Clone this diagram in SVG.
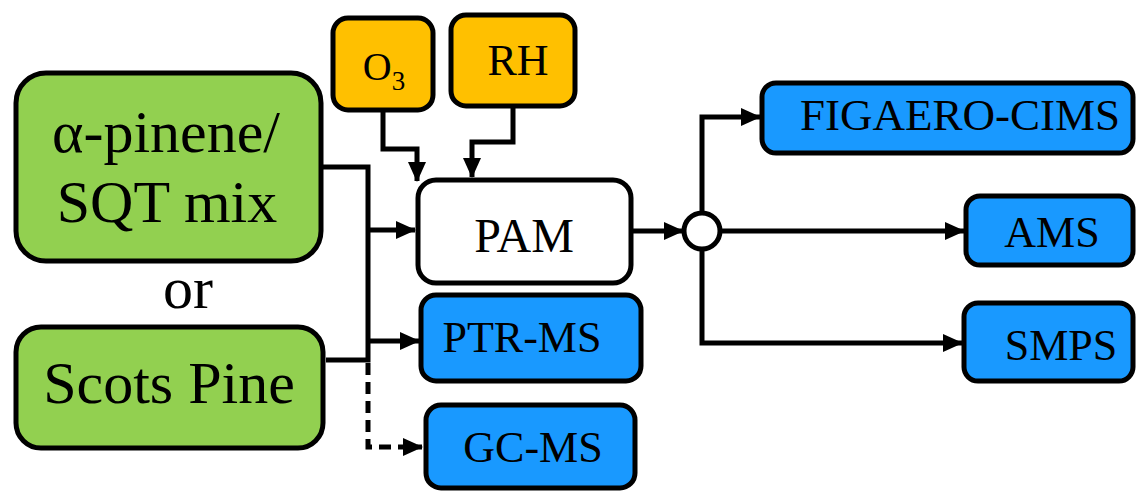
<svg xmlns="http://www.w3.org/2000/svg" width="1136" height="491" viewBox="0 0 1136 491">
<style>
.box{stroke:#000;stroke-width:5}
.green{fill:#92D050}
.orange{fill:#FFC000}
.blue{fill:#1999FF}
.white{fill:#FFFFFF}
.t{font-family:"Liberation Serif","Times New Roman","DejaVu Serif",serif;fill:#000;text-anchor:middle}
.c{fill:none;stroke:#000;stroke-width:5}
</style>
<defs>
<marker id="ah" markerUnits="userSpaceOnUse" viewBox="0 0 20 18" markerWidth="20" markerHeight="18" refX="19" refY="9" orient="auto">
<path d="M0,0 L20,9 L0,18 Z" fill="#000"/>
</marker>
</defs>
<rect width="1136" height="491" fill="#fff"/>
<g id="connectors">
<polyline class="c" points="322,167 368,167 368,360 326,360"/>
<line class="c" x1="368" y1="230" x2="415" y2="230" marker-end="url(#ah)"/>
<line class="c" x1="368" y1="341" x2="419" y2="341" marker-end="url(#ah)"/>
<polyline class="c" points="368,363 368,447 422,447" stroke-dasharray="12,7" marker-end="url(#ah)"/>
<polyline class="c" points="383,112 383,149 417,149 417,181" marker-end="url(#ah)"/>
<polyline class="c" points="513,108 513,142 472,142 472,177" marker-end="url(#ah)"/>
<line class="c" x1="633" y1="231" x2="683" y2="231" marker-end="url(#ah)"/>
<polyline class="c" points="702,212 702,117 760,117" marker-end="url(#ah)"/>
<line class="c" x1="722" y1="231" x2="964" y2="231" marker-end="url(#ah)"/>
<polyline class="c" points="702,250 702,343 962,343" marker-end="url(#ah)"/>
<circle cx="702" cy="231" r="18" fill="#fff" stroke="#000" stroke-width="5"/>
</g>
<g id="apinene">
<rect class="box green" x="16" y="73" width="305" height="188" rx="30"/>
<text class="t" x="166" y="152" font-size="60">α-pinene/</text>
<text class="t" x="167" y="222" font-size="60">SQT mix</text>
</g>
<g id="or">
<text class="t" x="188" y="308" font-size="60">or</text>
</g>
<g id="scotspine">
<rect class="box green" x="16" y="327" width="307" height="121" rx="25"/>
<text class="t" x="169" y="403" font-size="60">Scots Pine</text>
</g>
<g id="o3">
<rect class="box orange" x="333" y="18" width="100" height="92" rx="15"/>
<text class="t" x="384" y="80" font-size="40">O<tspan font-size="27" dy="10">3</tspan></text>
</g>
<g id="rh">
<rect class="box orange" x="451" y="15" width="124" height="91" rx="15"/>
<text class="t" x="518" y="75" font-size="44">RH</text>
</g>
<g id="pam">
<rect class="box white" x="418" y="180" width="213" height="103" rx="18"/>
<text class="t" x="524" y="252" font-size="48">PAM</text>
</g>
<g id="ptrms">
<rect class="box blue" x="421" y="295" width="220" height="86" rx="15"/>
<text class="t" x="522" y="352" font-size="44">PTR-MS</text>
</g>
<g id="gcms">
<rect class="box blue" x="426" y="405" width="209" height="83" rx="15"/>
<text class="t" x="533" y="462" font-size="44">GC-MS</text>
</g>
<g id="figaero">
<rect class="box blue" x="762" y="83" width="371" height="70" rx="14"/>
<text class="t" x="960" y="130" font-size="45">FIGAERO-CIMS</text>
</g>
<g id="ams">
<rect class="box blue" x="966" y="196" width="167" height="69" rx="14"/>
<text class="t" x="1052" y="247" font-size="44">AMS</text>
</g>
<g id="smps">
<rect class="box blue" x="964" y="303" width="169" height="78" rx="14"/>
<text class="t" x="1061" y="360" font-size="44">SMPS</text>
</g>
</svg>
